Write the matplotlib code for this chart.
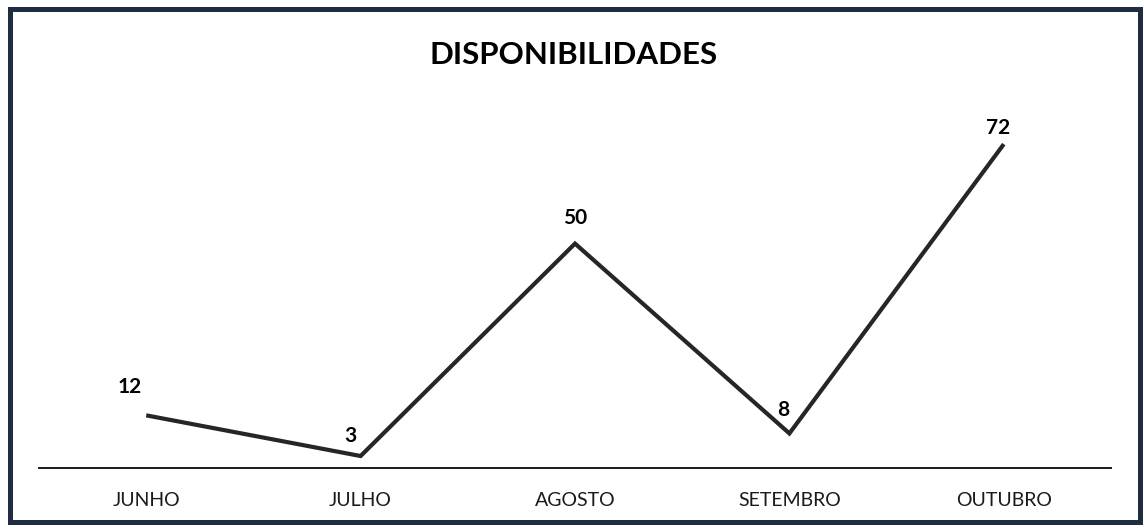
import matplotlib

matplotlib.use("Agg")
import matplotlib.pyplot as plt
from matplotlib.patches import Rectangle

MONTHS = ["JUNHO", "JULHO", "AGOSTO", "SETEMBRO", "OUTUBRO"]
VALUES = [12, 3, 50, 8, 72]
TITLE = "DISPONIBILIDADES"

# label offsets in pixels (dx, dy) from each point
LABEL_OFFSETS = [(-16, 28), (-10, 20), (0, 26), (-6, 23), (-6, 16)]

LINE_COLOR = "#262626"
BORDER_COLOR = "#1f2d40"
FONT = ["Lato", "DejaVu Sans"]


def main():
    W, H = 1144, 530
    fig = plt.figure(figsize=(W / 100, H / 100), dpi=100)
    ax = fig.add_axes([39 / W, (H - 468) / H, 1072 / W, 361.6 / H])

    x = range(len(MONTHS))
    ax.plot(x, VALUES, color=LINE_COLOR, lw=3.0, solid_joinstyle="miter",
            solid_capstyle="butt")
    for i, (v, (dx, dy)) in enumerate(zip(VALUES, LABEL_OFFSETS)):
        ax.annotate(str(v), (i, v), xytext=(dx * 0.72, dy * 0.72),
                    textcoords="offset points", ha="center", va="center",
                    fontsize=15, fontweight="bold", color="black", family=FONT)

    ax.set_xlim(-0.5, len(MONTHS) - 0.5)
    ax.set_ylim(0.35, 80.35)
    ax.set_xticks(list(x))
    ax.set_xticklabels(MONTHS, fontsize=14, family=FONT, color="#1a1a1a")
    ax.tick_params(axis="x", length=0, pad=17)
    ax.set_yticks([])
    for side in ["top", "right", "left"]:
        ax.spines[side].set_visible(False)
    ax.spines["bottom"].set_color("#1a1a1a")
    ax.spines["bottom"].set_linewidth(1.4)

    fig.text(574 / W, 1 - 55 / H, TITLE, ha="center", va="center",
             fontsize=22.5, fontweight="bold", family=FONT, color="black")

    fig.patches.append(Rectangle((9.5 / W, 8.5 / H), 1130 / W, 513 / H,
                                 transform=fig.transFigure, fill=False,
                                 edgecolor=BORDER_COLOR, lw=3.6))

    fig.savefig("out.png", dpi=100, facecolor="white")
    plt.close(fig)


if __name__ == "__main__":
    main()
